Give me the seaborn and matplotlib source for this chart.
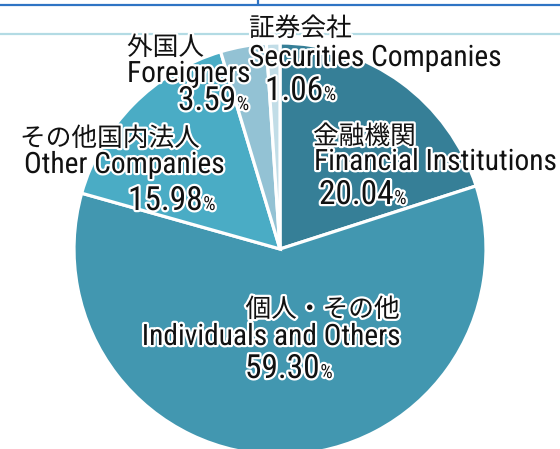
import matplotlib
matplotlib.use("Agg")
import matplotlib.pyplot as plt
import matplotlib.patheffects as pe
from matplotlib import font_manager as fm
import seaborn as sns

# Shareholder composition (%)
groups_ja = ["金融機関", "個人・その他", "その他国内法人", "外国人", "証券会社"]
groups_en = ["Financial Institutions", "Individuals and Others", "Other Companies",
             "Foreigners", "Securities Companies"]
shares = [20.04, 59.30, 15.98, 3.59, 1.06]
colors = ["#367f97", "#4297b0", "#4aacc5", "#93c2d4", "#c2dde7"]

sns.set_theme(style="white")


def narrow_latin_font():
    """Pick a condensed sans face if one is installed."""
    best = None
    for f in fm.fontManager.ttflist:
        tag = (f.name + " " + f.fname).lower()
        narrow = ("condensed" in tag or "narrow" in tag or
                  (isinstance(f.stretch, str) and "condensed" in f.stretch) or
                  (isinstance(f.stretch, int) and f.stretch < 500))
        if not narrow or f.style != "normal":
            continue
        if "semi" in tag or "extra" in tag or "ultra" in tag:
            continue
        w = f.weight if isinstance(f.weight, int) else {"normal": 400, "regular": 400}.get(f.weight, 700)
        if w != 400:
            continue
        rank = 0
        for i, key in enumerate(["roboto", "noto sans", "open sans", "liberation", "dejavu"]):
            if key in tag:
                rank = 10 - i
        if best is None or rank > best[0]:
            best = (rank, f.fname)
    if best:
        return fm.FontProperties(fname=best[1]), 1.0
    return fm.FontProperties(family="Noto Sans"), 0.78


latin_prop, latin_scale = narrow_latin_font()
cjk_font = "Noto Sans CJK JP"

W, H = 560, 449
fig = plt.figure(figsize=(W / 100, H / 100), dpi=100)
ax = fig.add_axes([0, 0, 1, 1])

ax.pie(shares, colors=colors, startangle=90, counterclock=False,
       center=(280, H - 249), radius=206,
       wedgeprops=dict(edgecolor="white", linewidth=2.3))
ax.set_xlim(0, W)
ax.set_ylim(0, H)
ax.set_aspect("equal")
ax.axis("off")

# header rules
ax.plot([0, W], [H - 5, H - 5], color="#2f74c4", lw=1.6, zorder=1, solid_capstyle="butt")
ax.plot([258, 258], [H, H - 5], color="#2f74c4", lw=1.6, zorder=1, solid_capstyle="butt")
ax.plot([0, W], [H - 34, H - 34], color="#b3dbe4", lw=1.6, zorder=1, solid_capstyle="butt")

outline = [pe.withStroke(linewidth=3.2, foreground="white")]


def put(x, y, s, size, ha="left", cjk=False):
    kw = dict(family=cjk_font) if cjk else dict(fontproperties=latin_prop.copy())
    t = ax.text(x, H - y, s, ha=ha, va="baseline", color="#111111", zorder=5,
                path_effects=outline, **kw)
    t.set_fontsize(size)
    return t


# label layout: (japanese xy, english xy, value xy, horizontal alignment of name lines)
layout = {
    "金融機関": ((313, 144), (314, 170), (319, 204), "left"),
    "個人・その他": ((400, 317), (400, 345), (245, 378), "right"),
    "その他国内法人": ((20, 146), (24, 173), (128, 210), "left"),
    "外国人": ((127, 55), (127, 82), (178, 110), "left"),
    "証券会社": ((249, 36), (249, 66), (265, 100), "left"),
}

value_texts = []
for ja, en, v in zip(groups_ja, groups_en, shares):
    (jx, jy), (ex, ey), (vx, vy), ha = layout[ja]
    put(jx, jy, ja, 18.5, ha=ha, cjk=True)
    put(ex, ey, en, 21.2 * latin_scale, ha=ha)
    t = put(vx, vy, f"{v:.2f}", 24 * latin_scale)
    value_texts.append((t, vy))

fig.canvas.draw()
renderer = fig.canvas.get_renderer()
for t, vy in value_texts:
    bb = t.get_window_extent(renderer)
    x_end = ax.transData.inverted().transform((bb.x1, bb.y0))[0]
    put(x_end + 0.5, vy, "%", 14 * latin_scale)

fig.savefig("out.png", dpi=100)
